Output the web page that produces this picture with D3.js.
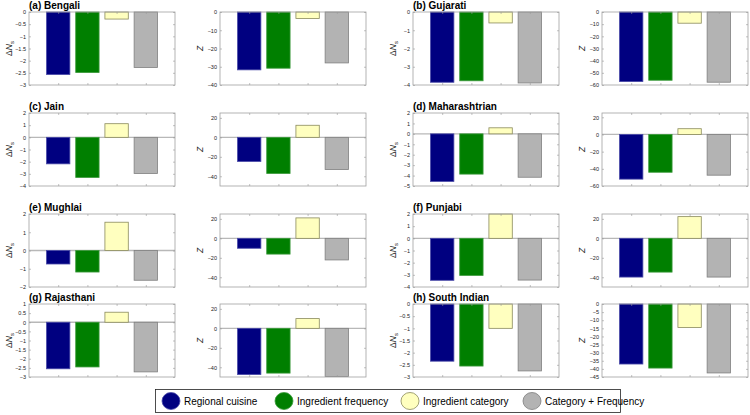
<!DOCTYPE html>
<html><head><meta charset="utf-8">
<script src="https://cdn.jsdelivr.net/npm/d3@7"></script>
<style>body{margin:0;background:#fff}svg{display:block}text{font-family:"Liberation Sans",Arial,sans-serif}</style>
</head><body><svg id="c" width="750" height="415"></svg>
<script>
const series = ["Regional cuisine","Ingredient frequency","Ingredient category","Category + Frequency"];
const cuisines = ["(a) Bengali","(b) Gujarati","(c) Jain","(d) Maharashtrian","(e) Mughlai","(f) Punjabi","(g) Rajasthani","(h) South Indian"];
const deltaNs = [
  [-2.57,-2.49,-0.29,-2.28],
  [-3.85,-3.77,-0.6,-3.89],
  [-2.18,-3.3,1.12,-2.97],
  [-4.56,-3.86,0.58,-4.16],
  [-0.74,-1.18,1.55,-1.63],
  [-3.45,-3.05,2.0,-3.43],
  [-2.55,-2.45,0.55,-2.72],
  [-2.35,-2.55,-1.0,-2.75]
];
const zScores = [
  [-31.7,-30.8,-3.6,-27.9],
  [-57.2,-56.1,-9.2,-57.7],
  [-24.8,-37.2,12.4,-33.1],
  [-52,-44,6.7,-47.4],
  [-10.2,-16.2,21,-22.2],
  [-39.8,-34.7,22.3,-39.8],
  [-47.5,-46,10,-49.5],
  [-37,-39.5,-14.5,-42.5]
];
const nsDomains = [[-3,0],[-4,0],[-4,2],[-5,2],[-2,2],[-4,2],[-3,1],[-3,0]];
const nsTicks = [
  [0,-0.5,-1,-1.5,-2,-2.5,-3],[0,-1,-2,-3,-4],[2,1,0,-1,-2,-3,-4],[2,1,0,-1,-2,-3,-4,-5],
  [2,1,0,-1,-2],[2,1,0,-1,-2,-3,-4],[1,0.5,0,-0.5,-1,-1.5,-2,-2.5,-3],[0,-0.5,-1,-1.5,-2,-2.5,-3]
];
const zDomains = [[-40,0],[-60,0],[-50,25],[-60,25],[-50,25],[-50,25],[-50,25],[-45,0]];
const zTicks = [
  [0,-10,-20,-30,-40],[0,-10,-20,-30,-40,-50,-60],[20,0,-20,-40],[20,0,-20,-40,-60],
  [20,0,-20,-40],[20,0,-20,-40],[20,0,-20,-40],[0,-5,-10,-15,-20,-25,-30,-35,-40,-45]
];
const fills = ["#000080","#007f00","#ffffbf","#b3b3b3"];
const strokes = ["#4a4aa8","#3c9a3c","#8a8a5c","#7f7f7f"];

const svg = d3.select("#c");
const colLeft = [29, 220, 413, 602];
const rowTop = [12, 113, 214, 304];
const W = 146, H = 73;

function panel(left, top, values, domain, ticks, title, isNs) {
  const g = svg.append("g").attr("transform", `translate(${left},${top})`);
  const x = d3.scaleLinear().domain([0,5]).range([0,W]);
  const y = d3.scaleLinear().domain(domain).range([H,0]);
  if (domain[1] > 0) {
    g.append("line").attr("x1",0).attr("x2",W).attr("y1",y(0)).attr("y2",y(0))
      .attr("stroke","#b8b8b8").attr("stroke-width",1.3);
  }
  g.selectAll("rect.bar").data(values).join("rect").attr("class","bar")
    .attr("x",(d,i)=>x(i+1-0.4)).attr("width",x(0.8)-x(0))
    .attr("y",d=>y(Math.max(0,d))).attr("height",d=>Math.abs(y(d)-y(0)))
    .attr("fill",(d,i)=>fills[i]).attr("stroke",(d,i)=>strokes[i]).attr("stroke-width",0.8);
  g.append("rect").attr("x",0).attr("y",0).attr("width",W).attr("height",H)
    .attr("fill","none").attr("stroke","#a0a0a0").attr("stroke-width",0.8);
  const ya = d3.axisLeft(y).tickValues(ticks).tickSize(-2).tickPadding(3).tickFormat(d3.format("~g"));
  const ax = g.append("g").call(ya);
  ax.select(".domain").remove();
  ax.selectAll(".tick line").attr("stroke","#999").attr("stroke-width",0.6);
  ax.selectAll(".tick text").attr("font-size",5.5).attr("fill","#222").attr("font-family","Liberation Sans, Arial, sans-serif");
  const yr = d3.axisRight(y).tickValues(ticks).tickSize(-2).tickFormat("");
  const ar = g.append("g").attr("transform",`translate(${W},0)`).call(yr);
  ar.select(".domain").remove();
  ar.selectAll(".tick line").attr("stroke","#999").attr("stroke-width",0.6);
  const xb = d3.axisBottom(x).tickValues([1,2,3,4]).tickSize(-2).tickFormat("");
  const bx = g.append("g").attr("transform",`translate(0,${H})`).call(xb);
  bx.select(".domain").remove();
  bx.selectAll(".tick line").attr("stroke","#999").attr("stroke-width",0.6);
  const xt = d3.axisTop(x).tickValues([1,2,3,4]).tickSize(-2).tickFormat("");
  const tx = g.append("g").call(xt);
  tx.select(".domain").remove();
  tx.selectAll(".tick line").attr("stroke","#999").attr("stroke-width",0.6);
  const t = g.append("text").attr("transform",`translate(-17,${H/2}) rotate(-90)`)
    .attr("text-anchor","middle").attr("font-size",8.5).attr("fill","#222");
  if (isNs) {
    t.append("tspan").text("\u0394");
    t.append("tspan").attr("font-style","italic").text("N");
    t.append("tspan").attr("font-size",6).attr("dy",2).text("s");
  } else {
    t.append("tspan").attr("font-style","italic").text("Z");
  }
  if (title) {
    g.append("text").attr("x",0).attr("y",-3.5).attr("font-size",10).attr("font-weight","bold")
      .attr("fill","#000").text(title);
  }
}

cuisines.forEach((c, k) => {
  const row = Math.floor(k/2), pair = k%2;
  panel(colLeft[pair*2], rowTop[row], deltaNs[k], nsDomains[k], nsTicks[k], c, true);
  panel(colLeft[pair*2+1], rowTop[row], zScores[k], zDomains[k], zTicks[k], null, false);
});

const lg = svg.append("g");
lg.append("rect").attr("x",155.5).attr("y",389.5).attr("width",465).attr("height",23)
  .attr("fill","#fff").attr("stroke","#222").attr("stroke-width",0.8);
const lx = [171, 284, 410, 532];
series.forEach((s,i)=>{
  lg.append("ellipse").attr("cx",lx[i]).attr("cy",401).attr("rx",9).attr("ry",8.5)
    .attr("fill",fills[i]).attr("stroke",strokes[i]).attr("stroke-width",0.8);
  lg.append("text").attr("x",lx[i]+13).attr("y",405).attr("font-size",10).attr("fill","#000").text(s);
});
</script></body></html>
